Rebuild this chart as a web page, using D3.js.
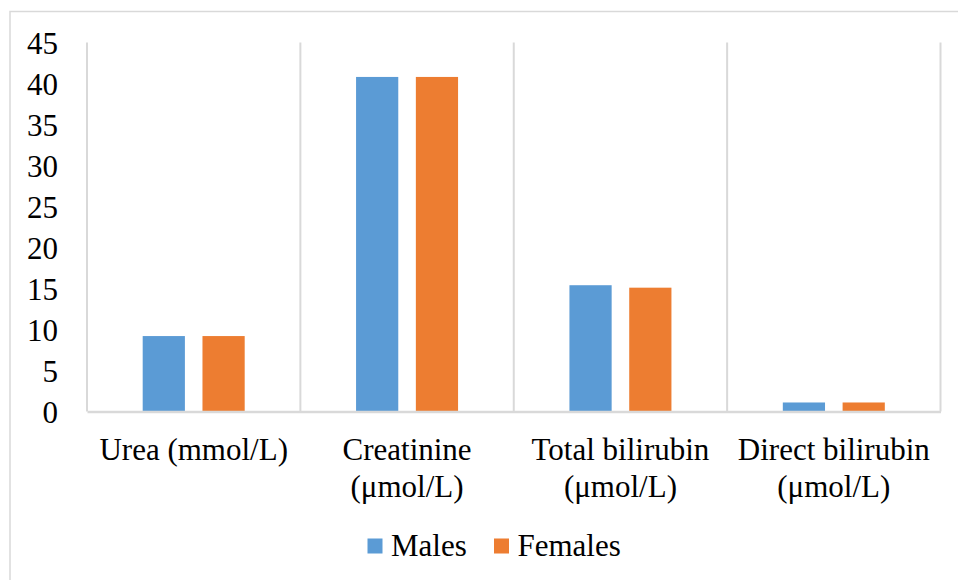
<!DOCTYPE html>
<html>
<head>
<meta charset="utf-8">
<script src="https://cdn.jsdelivr.net/npm/d3@7/dist/d3.min.js"></script>
<style>
  html, body { margin: 0; padding: 0; background: #ffffff; }
  svg { display: block; }
  svg text { font-family: 'Liberation Serif', 'Times New Roman', Tinos, Times, 'DejaVu Serif', serif !important; fill: #000000; }
</style>
</head>
<body>
<svg id="chart" width="958" height="580"></svg>
<script>
// Category labels (each entry is the list of lines drawn under the group)
const categories = ["Urea (mmol/L)", "Creatinine (μmol/L)", "Total bilirubin (μmol/L)", "Direct bilirubin (μmol/L)"];
const categoryLines = [["Urea (mmol/L)"], ["Creatinine", "(μmol/L)"], ["Total bilirubin", "(μmol/L)"], ["Direct bilirubin", "(μmol/L)"]];
const seriesNames = ["Males", "Females"];
const males = [9.2, 40.8, 15.4, 1.1];
const females = [9.2, 40.8, 15.1, 1.1];
const yTicks = [0, 5, 10, 15, 20, 25, 30, 35, 40, 45];
const colors = ["#5B9BD5", "#ED7D31"];

const svg = d3.select("#chart");
const W = 958, H = 580;
const plot = { left: 87, right: 940.5, top: 42.5, bottom: 411.5 };
const gridColor = "#d9d9d9";
const fontSize = 31;
const serif = "'Liberation Serif', 'Times New Roman', Tinos, Times, 'DejaVu Serif', serif";

// Outer frame
svg.append("rect")
  .attr("x", 10).attr("y", 11.5)
  .attr("width", W).attr("height", H)
  .attr("fill", "none").attr("stroke", gridColor).attr("stroke-width", 1.5);

const x0 = d3.scaleBand().domain(categories).range([plot.left, plot.right]).paddingInner(0).paddingOuter(0);
const groupWidth = 102;
const x1 = d3.scaleBand().domain(seriesNames)
  .range([(x0.bandwidth() - groupWidth) / 2, (x0.bandwidth() + groupWidth) / 2])
  .paddingInner(0.294).paddingOuter(0);
const y = d3.scaleLinear().domain([0, 45]).range([plot.bottom, plot.top]);

// Vertical separators between categories
const bounds = categories.map(c => x0(c)).concat([x0(categories[categories.length - 1]) + x0.bandwidth()]);
svg.append("g").selectAll("line").data(bounds).join("line")
  .attr("x1", d => d).attr("x2", d => d)
  .attr("y1", plot.top).attr("y2", plot.bottom)
  .attr("stroke", gridColor).attr("stroke-width", 2);

// Bars
const rows = categories.map((c, i) => ({ cat: c, values: [males[i], females[i]] }));
const groups = svg.append("g").selectAll("g").data(rows).join("g")
  .attr("transform", d => `translate(${x0(d.cat)},0)`);
groups.selectAll("rect")
  .data(d => d.values.map((v, j) => ({ name: seriesNames[j], value: v, color: colors[j] })))
  .join("rect")
  .attr("x", d => x1(d.name))
  .attr("width", x1.bandwidth())
  .attr("y", d => y(d.value))
  .attr("height", d => y(0) - y(d.value))
  .attr("fill", d => d.color);

// X axis
const xAxis = svg.append("g")
  .attr("transform", `translate(0,${plot.bottom})`)
  .call(d3.axisBottom(x0).tickSize(0).tickFormat(""));
xAxis.attr("font-family", serif);
xAxis.select(".domain").attr("stroke", gridColor).attr("stroke-width", 2.5);
xAxis.selectAll(".tick text").remove();
xAxis.selectAll(".tick").each(function (d, i) {
  const t = d3.select(this).append("text")
    .attr("text-anchor", "middle")
    .style("font-family", serif)
    .attr("font-size", fontSize);
  categoryLines[i].forEach((line, k) => {
    t.append("tspan").attr("x", 0).attr("y", 48.5 + k * 37).text(line);
  });
});

// Y axis
const yAxis = svg.append("g")
  .attr("transform", `translate(${plot.left},0)`)
  .call(d3.axisLeft(y).tickValues(yTicks).tickSize(0).tickPadding(29));
yAxis.attr("font-family", serif);
yAxis.select(".domain").remove();
yAxis.selectAll(".tick text")
  .attr("font-size", fontSize)
  .style("font-family", serif)
  .attr("fill", "#000")
  .attr("dy", "0.34em");

// Legend
const legendItems = [
  { name: "Males", color: colors[0], x: 367.5 },
  { name: "Females", color: colors[1], x: 494 }
];
const legend = svg.append("g");
legendItems.forEach(item => {
  legend.append("rect")
    .attr("x", item.x).attr("y", 538.5)
    .attr("width", 15).attr("height", 15)
    .attr("fill", item.color);
  legend.append("text")
    .attr("x", item.x + 23.5).attr("y", 556)
    .style("font-family", serif)
    .attr("font-size", fontSize)
    .text(item.name);
});
</script>
</body>
</html>
